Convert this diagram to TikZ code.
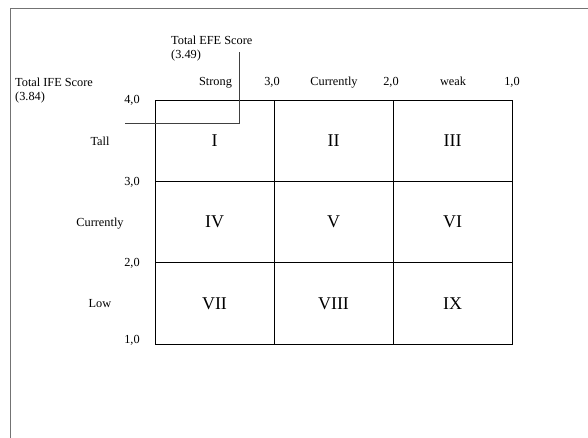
\documentclass[tikz,border=0pt]{standalone}
\usepackage{fontspec}
\setmainfont{Liberation Serif}
\tikzset{
  lbl/.style={font=\fontsize{12.3}{14}\selectfont, inner sep=0pt, text height=8.5pt, text depth=0.5pt},
  cell/.style={draw=black, line width=0.9pt, minimum width=119pt, minimum height=81.33pt, inner sep=0pt, font=\fontsize{18}{20}\selectfont},
  frameline/.style={draw=black!55, line width=1.4pt},
  stair/.style={draw=black!75, line width=0.9pt}
}
\begin{document}
\begin{tikzpicture}[x=1pt,y=-1pt]
\useasboundingbox (0,0) rectangle (588,438);
\draw[frameline] (588,8.5) -- (10.5,8.5) -- (10.5,438);
% grid cells
\node[cell] (c1) at (214.5,140.67) {I};
\node[cell] (c2) at (333.5,140.67) {II};
\node[cell] (c3) at (452.5,140.67) {III};
\node[cell] (c4) at (214.5,222) {IV};
\node[cell] (c5) at (333.5,222) {V};
\node[cell] (c6) at (452.5,222) {VI};
\node[cell] (c7) at (214.5,303.33) {VII};
\node[cell] (c8) at (333.5,303.33) {VIII};
\node[cell] (c9) at (452.5,303.33) {IX};
% staircase
\coordinate (sa) at (125,123);
\coordinate (sb) at (239,123);
\coordinate (sc) at (239,52);
\draw[stair] (sa) -- (sb) -- (sc);
% top labels
\node[lbl, anchor=west] (efe) at (171,41) {Total EFE Score};
\node[lbl, anchor=west] (efev) at (171,54.5) {(3.49)};
\node[lbl, anchor=west] (ife) at (15,83) {Total IFE Score};
\node[lbl, anchor=west] (ifev) at (15,97) {(3.84)};
\node[lbl] (t40) at (132,100) {4,0};
\node[lbl] (strong) at (215.5,82) {Strong};
\node[lbl] (t30) at (272,82) {3,0};
\node[lbl] (curr) at (334,82) {Currently};
\node[lbl] (t20) at (391,82) {2,0};
\node[lbl] (weak) at (453,82) {weak};
\node[lbl] (t10) at (512,82) {1,0};
% left labels
\node[lbl] (tall) at (100,142) {Tall};
\node[lbl] (l30) at (132,182) {3,0};
\node[lbl] (lcurr) at (100,222) {Currently};
\node[lbl] (l20) at (132,262) {2,0};
\node[lbl] (low) at (100,303) {Low};
\node[lbl] (l10) at (132,339.5) {1,0};
\end{tikzpicture}
\end{document}
